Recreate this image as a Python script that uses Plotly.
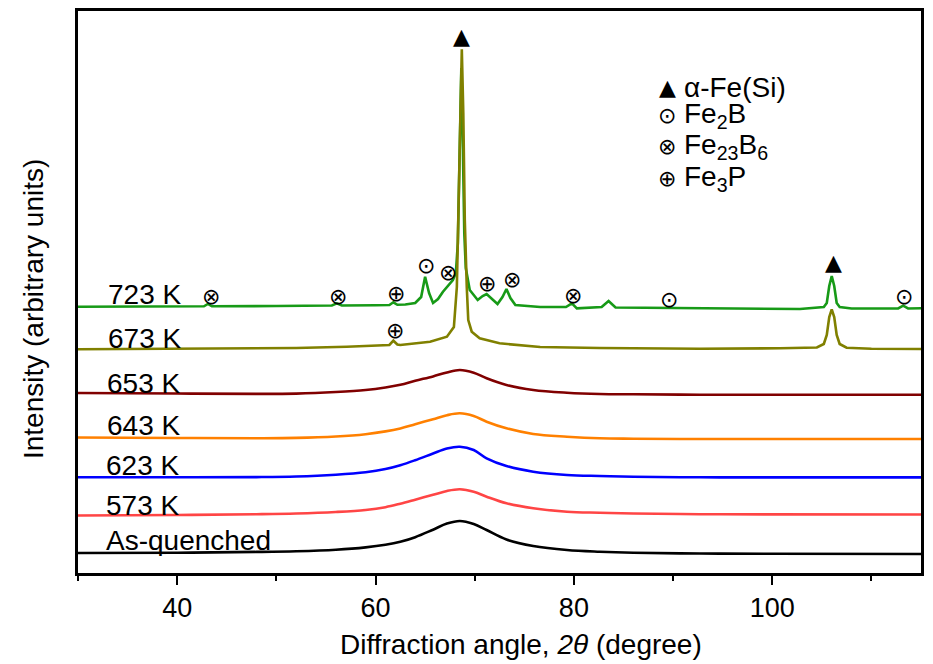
import plotly.graph_objects as go

# ---------------- data ----------------
# common 2-theta grid for the amorphous (hump) patterns
x_amorph = [30, 40, 48, 52, 56, 59, 61, 62.5, 64, 65.8, 67.2, 68.5, 69.9, 71.2,
            73.2, 75.9, 79.3, 82.6, 86, 92.7, 100, 115]
y_asq = [20, 20.3, 21.1, 21.8, 23.3, 25.6, 28.2, 31.2, 35.8, 43.3, 49.4, 52, 49, 43,
         33.5, 27, 23, 21.3, 20.3, 19.5, 19.2, 19]
y_573 = [57.5, 58, 58.8, 59.5, 61, 63, 65.8, 69.3, 73.3, 78.2, 82, 83.7, 81.3, 76.3,
         69.7, 64.7, 61.3, 60.3, 59.5, 58.8, 58.6, 58.5]
y_623 = [95.7, 95.7, 95.9, 96.5, 98.3, 100.8, 104, 107.8, 112.8, 119.5, 124.5, 126.3,
         123, 114.7, 107, 101.3, 98, 97, 96.3, 95.7, 95.6, 95.6]
y_643 = [135.5, 135, 134.8, 135.1, 136.5, 138.8, 141.6, 144.6, 148.8, 153.8, 157.8,
         159.7, 157, 151.3, 144.7, 139, 136.3, 134.7, 134.3, 134, 134, 134]
y_653 = [180, 179.5, 179.1, 179.4, 181, 183, 185.5, 188.2, 192.2, 196.6, 200.6, 203,
         200.3, 194.7, 188, 183, 180.3, 179, 178.7, 178.3, 178.2, 178.2]

x_673 = [30, 40, 47, 52, 57.1, 60.5, 61.4, 61.8, 62.2, 62.5, 65.5, 67.2, 67.9,
         68.2, 68.35, 68.55, 68.7, 68.85, 69.0, 69.2, 69.35, 69.7, 70.5, 72.5,
         76.6, 82.6, 92.7, 100.8, 104.5, 105.2, 105.5, 105.75, 106.0, 106.25,
         106.5, 106.8, 107.5, 110, 115]
y_673 = [223.7, 224, 224.3, 225, 226.3, 227.3, 228, 232.3, 228.5, 228, 231.3,
         236.3, 246, 286, 353, 460, 523.7, 460, 353, 286, 253, 241.3, 234.7,
         229.7, 226, 225, 224.3, 224.7, 225.5, 229, 238, 256, 263.7, 256,
         238, 229, 225.3, 224.3, 224]

x_723 = [30, 40, 42.7, 43.1, 43.5, 50, 55.6, 56.1, 56.6, 60, 61.4, 61.8, 62.2,
         63, 64.0, 64.6, 64.85, 65.0, 65.15, 65.4, 65.8, 66.3, 66.8, 67.2, 67.5,
         67.8, 68.1, 68.3, 68.5, 68.65, 68.8, 68.95, 69.1, 69.3, 69.5, 70.3,
         70.8, 71.2, 71.7, 72.3, 72.8, 73.2, 73.6, 74.1, 76.6, 79.2, 79.8, 80.3,
         82.8, 83.5, 84.2, 92.7, 102.8, 105.2, 105.5, 105.75, 106.0, 106.25,
         106.5, 106.8, 108, 112.7, 113.2, 113.7, 115]
y_723 = [266.3, 266.5, 266.7, 269, 266.7, 267, 267.5, 269.7, 267.5, 267.8, 268,
         270.7, 268.2, 268.5, 270, 276, 290, 296.3, 290, 280, 270, 274, 281.3,
         286, 290, 293, 300, 330, 430, 505, 430, 340, 305, 292, 283, 273, 277,
         279, 274, 269, 276, 284, 275, 268, 266, 266, 269.7, 264.7, 266, 272,
         265.5, 264.7, 264, 266, 270, 287, 297, 287, 270, 266, 264.5, 264.5,
         267.3, 264.5, 264.7]

series_names = ["As-quenched", "573 K", "623 K", "643 K", "653 K", "723 K", "673 K"]
series_x = [x_amorph, x_amorph, x_amorph, x_amorph, x_amorph, x_723, x_673]
series_y = [y_asq, y_573, y_623, y_643, y_653, y_723, y_673]
series_colors = ["#000000", "#ff4545", "#0000ff", "#ff8000", "#800000", "#179a17", "#808000"]
series_shape = ["spline", "spline", "spline", "spline", "spline", "linear", "linear"]

# curve labels: (text, x, y)
label_text = ["As-quenched", "573 K", "623 K", "643 K", "653 K", "673 K", "723 K"]
label_x = [32.6, 32.6, 32.6, 32.7, 32.7, 32.8, 32.8]
label_y = [33, 68, 108, 147.5, 189.7, 234.7, 279]

# phase marker symbols placed above the peaks: (symbol, x, y)
mark_sym = ["⊗", "⊗", "⊕", "⊙", "⊗", "⊕", "⊗", "⊗", "⊙", "⊙", "▲", "▲", "⊕"]
mark_x = [43.4, 56.2, 62.1, 65.1, 67.3, 71.2, 73.8, 79.9, 89.6, 113.3, 106.2, 68.7, 62.0]
mark_y = [277, 277, 279.7, 308, 300.7, 289.7, 294, 278, 274, 276.3, 311, 537, 242.3]

# legend of phases
legend_sym = ["▲", "⊙", "⊗", "⊕"]
legend_text = ["α-Fe(Si)", "Fe<sub>2</sub>B", "Fe<sub>23</sub>B<sub>6</sub>", "Fe<sub>3</sub>P"]
legend_y = [485.5, 457.3, 426.3, 394.8]
legend_sym_x = 89.4
legend_text_x = 90.95

FONT = "Liberation Sans, Arial, sans-serif"
SYMFONT = "DejaVu Sans, sans-serif"

fig = go.Figure()
for name, xs, ys, col, shp in zip(series_names, series_x, series_y, series_colors, series_shape):
    fig.add_trace(go.Scatter(x=xs, y=ys, mode="lines", name=name,
                             line=dict(color=col, width=2.6, shape=shp, smoothing=1.0),
                             showlegend=False, hoverinfo="skip"))

ann = []
for t, x, y in zip(label_text, label_x, label_y):
    ann.append(dict(x=x, y=y, xref="x", yref="y", text=t, showarrow=False,
                    xanchor="left", yanchor="middle",
                    font=dict(family=FONT, size=28, color="black")))
for s, x, y in zip(mark_sym, mark_x, mark_y):
    ann.append(dict(x=x, y=y, xref="x", yref="y", text=s, showarrow=False,
                    xanchor="center", yanchor="middle",
                    font=dict(family=SYMFONT, size=22, color="black")))
for s, t, y in zip(legend_sym, legend_text, legend_y):
    ann.append(dict(x=legend_sym_x, y=y, xref="x", yref="y", text=s, showarrow=False,
                    xanchor="center", yanchor="middle",
                    font=dict(family=SYMFONT, size=22, color="black")))
    ann.append(dict(x=legend_text_x, y=y, xref="x", yref="y", text=t, showarrow=False,
                    xanchor="left", yanchor="middle",
                    font=dict(family=FONT, size=28, color="black")))
# axis titles
ann.append(dict(x=-0.052, y=0.47, xref="paper", yref="paper",
                text="Intensity (arbitrary units)", showarrow=False, textangle=-90,
                xanchor="center", yanchor="middle",
                font=dict(family=FONT, size=28, color="black")))
ann.append(dict(x=0.525, y=-0.128, xref="paper", yref="paper",
                text="Diffraction angle, <i>2θ</i> (degree)", showarrow=False,
                xanchor="center", yanchor="middle",
                font=dict(family=FONT, size=28, color="black")))

# page body has an 8px margin, so the figure is sized/offset to compensate
fig.update_layout(
    width=925, height=656,
    margin=dict(l=70, r=12, t=3, b=91),
    paper_bgcolor="white", plot_bgcolor="white",
    annotations=ann,
    xaxis=dict(range=[30, 115], showgrid=False, zeroline=False, automargin=False,
               showline=True, linecolor="black", linewidth=2.5, mirror=True,
               ticks="outside", ticklen=9, tickwidth=2, tickcolor="black",
               tick0=40, dtick=20,
               minor=dict(dtick=10, tick0=30, ticks="outside", ticklen=5,
                          tickwidth=2, tickcolor="black", showgrid=False),
               tickfont=dict(family=FONT, size=27, color="black")),
    yaxis=dict(range=[0, 562], showgrid=False, zeroline=False, automargin=False,
               showline=True, linecolor="black", linewidth=2.5, mirror=True,
               ticks="", showticklabels=False),
)

fig.write_html("out.html")
